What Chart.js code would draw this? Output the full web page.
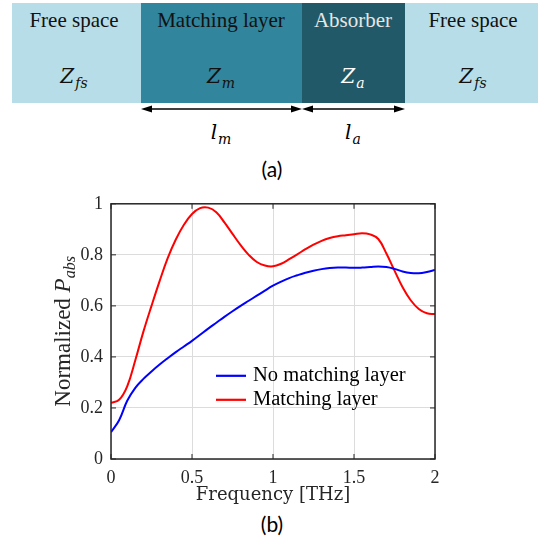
<!DOCTYPE html>
<html>
<head>
<meta charset="utf-8">
<title>Absorbed power with and without a matching layer</title>
<script src="https://cdn.jsdelivr.net/npm/chart.js@4.4.1/dist/chart.umd.min.js"></script>
<style>
  body { margin: 0; background: #fff; }
  #page { position: relative; width: 540px; height: 544px; overflow: hidden; }
  .layer { position: absolute; top: 3px; height: 100px; }
  .lbl { position: absolute; transform: translateX(-50%); white-space: nowrap;
         font-family: "Liberation Serif", "Times New Roman", serif; }
  .name { top: 8px; font-size: 21px; line-height: 24px; }
  .imp, .len { font-family: "DejaVu Serif", serif; font-size: 20px; line-height: 26px; font-style: italic; }
  .imp { top: 63px; }
  .len { top: 119px; }
  .sub { font-size: 14px; position: relative; top: 5px; margin-left: 1px; }
  .cap { font-family: Lato, "Open Sans", sans-serif; font-size: 21px; line-height: 24px; }
  #absChart { position: absolute; left: 0; top: 185px; }
</style>
</head>
<body>
<div id="page">
  <!-- layer stack -->
  <div class="layer" style="left:12px;width:129px;background:#b7dee8"></div>
  <div class="layer" style="left:141px;width:161px;background:#31859c"></div>
  <div class="layer" style="left:302px;width:103px;background:#215968"></div>
  <div class="layer" style="left:405px;width:133px;background:#b7dee8"></div>

  <div class="lbl name" style="left:74px;color:#111">Free space</div>
  <div class="lbl name" style="left:221px;color:#111">Matching layer</div>
  <div class="lbl name" style="left:353px;color:#e6e6e6">Absorber</div>
  <div class="lbl name" style="left:473px;color:#111">Free space</div>

  <div class="lbl imp" style="left:74px;color:#111">Z<span class="sub">fs</span></div>
  <div class="lbl imp" style="left:221px;color:#111">Z<span class="sub">m</span></div>
  <div class="lbl imp" style="left:353px;color:#fff">Z<span class="sub">a</span></div>
  <div class="lbl imp" style="left:473px;color:#111">Z<span class="sub">fs</span></div>

  <!-- thickness arrows -->
  <svg width="540" height="120" style="position:absolute;left:0;top:0">
    <g stroke="#000" stroke-width="1.5" fill="#000">
      <line x1="146" y1="109" x2="297" y2="109"/>
      <line x1="307" y1="109" x2="400" y2="109"/>
      <polygon points="141,109 152,105.5 152,112.5" stroke="none"/>
      <polygon points="302,109 291,105.5 291,112.5" stroke="none"/>
      <polygon points="302,109 313,105.5 313,112.5" stroke="none"/>
      <polygon points="405,109 394,105.5 394,112.5" stroke="none"/>
    </g>
  </svg>
  <div class="lbl len" style="left:221px">l<span class="sub">m</span></div>
  <div class="lbl len" style="left:353px">l<span class="sub">a</span></div>

  <div class="lbl cap" style="left:272px;top:157px">(a)</div>

  <canvas id="absChart" width="540" height="325"></canvas>

  <div class="lbl cap" style="left:272px;top:512px">(b)</div>
</div>

<script>
// frequency in THz, normalized absorbed power
const freq = [0, 0.05, 0.1, 0.15, 0.2, 0.25, 0.3, 0.35, 0.4, 0.45,
  0.5, 0.55, 0.6, 0.65, 0.7, 0.75, 0.8, 0.85, 0.9, 0.95,
  1, 1.05, 1.1, 1.15, 1.2, 1.25, 1.3, 1.35, 1.4, 1.45,
  1.5, 1.55, 1.6, 1.65, 1.7, 1.75, 1.8, 1.85, 1.9, 1.95, 2];

const noMatching = [0.105, 0.152, 0.228, 0.279, 0.314, 0.343, 0.370, 0.395, 0.419, 0.441,
  0.463, 0.487, 0.511, 0.534, 0.557, 0.579, 0.600, 0.620, 0.640, 0.660,
  0.679, 0.695, 0.709, 0.720, 0.730, 0.738, 0.744, 0.748, 0.750, 0.750,
  0.749, 0.750, 0.752, 0.754, 0.752, 0.745, 0.735, 0.729, 0.728, 0.733, 0.741];

const matching = [0.220, 0.232, 0.285, 0.387, 0.499, 0.600, 0.697, 0.787, 0.860, 0.918,
  0.960, 0.983, 0.985, 0.967, 0.927, 0.882, 0.838, 0.800, 0.772, 0.758,
  0.755, 0.765, 0.783, 0.802, 0.822, 0.840, 0.855, 0.866, 0.873, 0.877,
  0.881, 0.885, 0.880, 0.862, 0.805, 0.738, 0.673, 0.622, 0.588, 0.571, 0.568];

const xTicks = [0, 0.5, 1, 1.5, 2];
const xTickLabels = ['0', '0.5', '1', '1.5', '2'];
const yTicks = [0, 0.2, 0.4, 0.6, 0.8, 1];
const yTickLabels = ['0', '0.2', '0.4', '0.6', '0.8', '1'];

const serif = '"Liberation Serif", "Times New Roman", serif';
const ink = '#262626';

function pairs(ys) {
  return freq.map((f, i) => ({ x: f, y: ys[i] }));
}

// box round the plot with inward tick marks on every side
const axisFrame = {
  id: 'axisFrame',
  afterDatasetsDraw(chart) {
    const { ctx, chartArea: { left, right, top, bottom }, scales: { x, y } } = chart;
    ctx.save();
    ctx.strokeStyle = ink;
    ctx.lineWidth = 1;
    ctx.beginPath();
    x.ticks.forEach(t => {
      const px = x.getPixelForValue(t.value);
      ctx.moveTo(px, bottom); ctx.lineTo(px, bottom - 5);
      ctx.moveTo(px, top); ctx.lineTo(px, top + 5);
    });
    y.ticks.forEach(t => {
      const py = y.getPixelForValue(t.value);
      ctx.moveTo(left, py); ctx.lineTo(left + 5, py);
      ctx.moveTo(right, py); ctx.lineTo(right - 5, py);
    });
    ctx.stroke();
    ctx.lineWidth = 1.5;
    ctx.strokeRect(left, top, right - left, bottom - top);
    ctx.restore();
  }
};

// y title with italic P and subscript
const yAxisTitle = {
  id: 'yAxisTitle',
  afterDraw(chart) {
    const { ctx, chartArea } = chart;
    const cy = (chartArea.top + chartArea.bottom) / 2;
    const parts = [
      { text: 'Normalized ', font: `23px ${serif}`, dy: 0 },
      { text: 'P', font: `italic 23px ${serif}`, dy: 0 },
      { text: 'abs', font: `italic 16px ${serif}`, dy: 5 }
    ];
    ctx.save();
    let total = 0;
    parts.forEach(p => { ctx.font = p.font; p.w = ctx.measureText(p.text).width; total += p.w; });
    ctx.translate(70, cy);
    ctx.rotate(-Math.PI / 2);
    ctx.fillStyle = ink;
    ctx.textBaseline = 'alphabetic';
    let x = -total / 2;
    parts.forEach(p => { ctx.font = p.font; ctx.fillText(p.text, x, p.dy); x += p.w; });
    ctx.restore();
  }
};

// legend sitting inside the plot, no box
const insideLegend = {
  id: 'insideLegend',
  afterDraw(chart) {
    const { ctx, chartArea } = chart;
    ctx.save();
    ctx.font = `20.5px ${serif}`;
    ctx.textBaseline = 'middle';
    chart.data.datasets.forEach((ds, i) => {
      const y = chartArea.top + 172 + i * 24;
      const x0 = chartArea.left + 105;
      ctx.strokeStyle = ds.borderColor;
      ctx.lineWidth = 2.2;
      ctx.beginPath();
      ctx.moveTo(x0, y);
      ctx.lineTo(x0 + 30, y);
      ctx.stroke();
      ctx.fillStyle = '#000';
      ctx.fillText(ds.label, x0 + 37, y);
    });
    ctx.restore();
  }
};

const tickFont = { family: serif, size: 18 };

new Chart(document.getElementById('absChart'), {
  type: 'line',
  data: {
    datasets: [
      { label: 'No matching layer', data: pairs(noMatching), borderColor: '#0000ff',
        borderWidth: 2, pointRadius: 0, tension: 0.4 },
      { label: 'Matching layer', data: pairs(matching), borderColor: '#ff0000',
        borderWidth: 2, pointRadius: 0, tension: 0.4 }
    ]
  },
  options: {
    responsive: false,
    animation: false,
    devicePixelRatio: 1,
    layout: { padding: { top: 18, right: 105, left: 0, bottom: 0 } },
    plugins: { legend: { display: false }, tooltip: { enabled: false } },
    scales: {
      x: {
        type: 'linear', min: 0, max: 2,
        afterBuildTicks: s => { s.ticks = xTicks.map(v => ({ value: v })); },
        afterFit: s => { s.height = 51; },
        ticks: { callback: (v, i) => xTickLabels[i], font: tickFont, color: ink, padding: 8, maxRotation: 0 },
        grid: { color: '#dcdcdc', drawTicks: false },
        border: { display: false },
        title: { display: true, text: 'Frequency [THz]', color: ink,
                 font: { family: '"DejaVu Serif", serif', size: 18 }, padding: { top: 0, bottom: 4 } }
      },
      y: {
        type: 'linear', min: 0, max: 1,
        afterBuildTicks: s => { s.ticks = yTicks.map(v => ({ value: v })); },
        afterFit: s => { s.width = 111; },
        ticks: { callback: (v, i) => yTickLabels[i], font: tickFont, color: ink, padding: 8 },
        grid: { color: '#dcdcdc', drawTicks: false },
        border: { display: false }
      }
    }
  },
  plugins: [axisFrame, yAxisTitle, insideLegend]
});
</script>
</body>
</html>
